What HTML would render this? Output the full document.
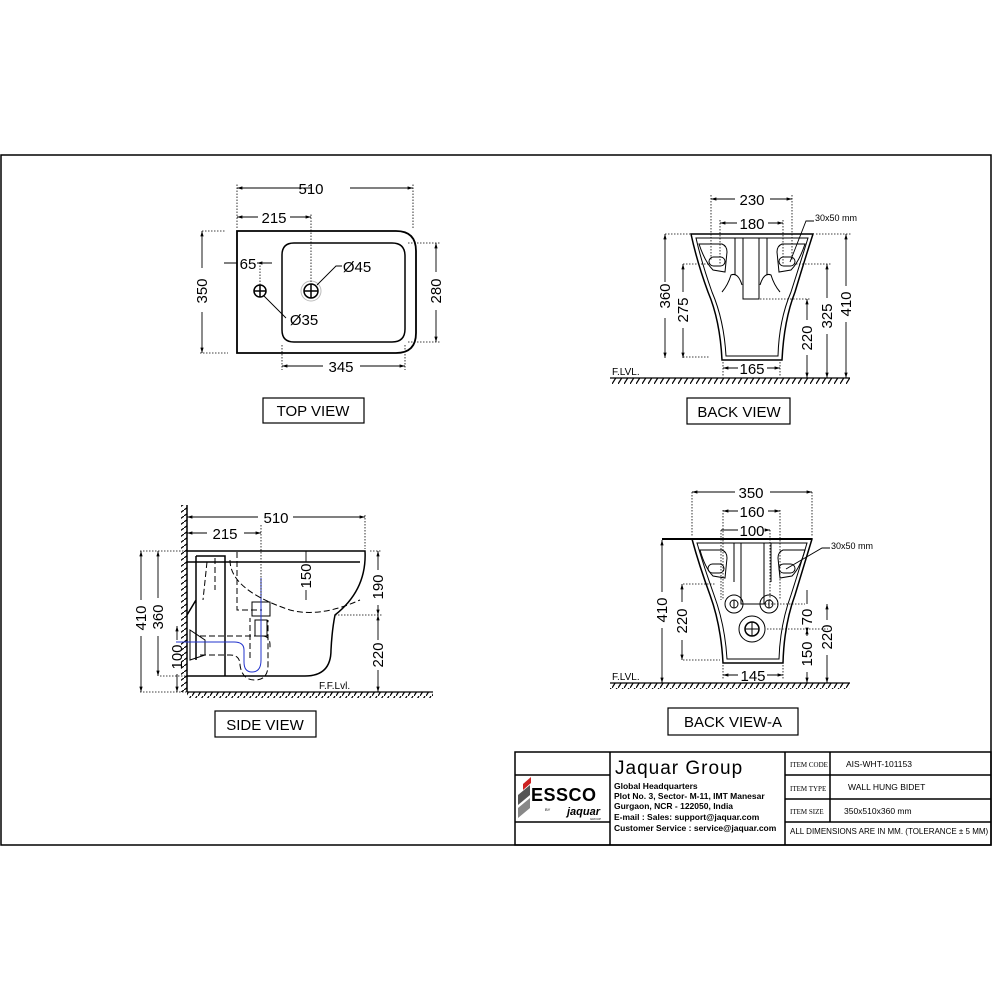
<!DOCTYPE html>
<html><head><meta charset="utf-8"><style>
html,body{margin:0;padding:0;background:#fff;}
svg{display:block;}
text{font-family:"Liberation Sans",sans-serif;fill:#000;}
</style></head><body>
<svg width="1000" height="1000" viewBox="0 0 1000 1000" xmlns="http://www.w3.org/2000/svg">
<defs>
<marker id="a" viewBox="0 0 10 10" refX="10" refY="5" markerWidth="6" markerHeight="6" orient="auto-start-reverse"><path d="M0,2 L10,5 L0,8 z" fill="#000"/></marker>
<pattern id="hatch" width="6" height="8" patternUnits="userSpaceOnUse"><path d="M0,8 L5,0" stroke="#000" stroke-width="1.2"/></pattern>
<pattern id="hatchv" width="8" height="6" patternUnits="userSpaceOnUse"><path d="M0,6 L8,0" stroke="#000" stroke-width="1.2"/></pattern>
</defs>
<rect x="1" y="155" width="990" height="690" fill="none" stroke="#000" stroke-width="1.5"/>

<g fill="none" stroke="#000" stroke-width="1.5">
<!-- TOP VIEW -->
<path d="M237,231 H396 Q416,231 416,251 V333 Q416,353 396,353 H237 Z" stroke-width="1.8"/>
<path d="M294,243 H392 Q405,243 405,256 V329 Q405,342 392,342 H294 Q282,342 282,330 V255 Q282,243 294,243 Z"/>
<circle cx="260" cy="291" r="6"/><path d="M254,291h12M260,285v12"/>
<circle cx="311" cy="291" r="10" stroke="#bbb" stroke-width="1"/>
<circle cx="311" cy="291" r="7"/><path d="M304,291h14M311,284v14"/>
</g>
<g fill="none" stroke="#000" stroke-width="0.8" stroke-dasharray="1.5,1.5">
<path d="M237,228V183M413,228V183M311,282V213M202,231H225M200,353H228M408,243H440M408,342H440M282,345V370M405,345V370M260,285V263"/>
</g>
<g stroke="#000" stroke-width="0.9" fill="none">
<path d="M237,188H312M350,188H413" marker-start="url(#a)" marker-end="url(#a)"/>
<path d="M237,217H258M290,217H311" marker-start="url(#a)" marker-end="url(#a)"/>
<path d="M202,231V268M202,312V353" marker-start="url(#a)" marker-end="url(#a)"/>
<path d="M436,243V272M436,310V342" marker-start="url(#a)" marker-end="url(#a)"/>
<path d="M282,366H323M360,366H405" marker-start="url(#a)" marker-end="url(#a)"/>
<path d="M224,263H237M272,263H257" marker-end="url(#a)"/>
<path d="M264,296L286,318M317,285L336,266H342"/>
</g>
<g font-size="15">
<text x="311" y="194" text-anchor="middle" fill="#000">510</text>
<text x="274" y="223" text-anchor="middle">215</text>
<text x="248" y="269" text-anchor="middle">65</text>
<text x="357" y="272" text-anchor="middle">Ø45</text>
<text x="304" y="325" text-anchor="middle">Ø35</text>
<text x="341" y="372" text-anchor="middle">345</text>
<text transform="translate(207,291) rotate(-90)" text-anchor="middle">350</text>
<text transform="translate(441,291) rotate(-90)" text-anchor="middle">280</text>
</g>
<rect x="263" y="398" width="101" height="25" fill="none" stroke="#000" stroke-width="1.2"/>
<text x="313" y="416" font-size="15" text-anchor="middle">TOP VIEW</text>

<!-- BACK VIEW -->
<g fill="none" stroke="#000" stroke-width="1.5">
<path d="M691,234 H813 Q804,262 795,292 Q784,320 782,360 H722 Q720,320 708,292 Q697,262 691,234 Z"/>
<path d="M696,238 H808 Q800,264 791,292 Q779,320 778,356 H726 Q724,320 712,292 Q702,264 696,238 Z" stroke-width="1"/>
<path d="M699,244 H722 Q727,246 727,252 L725,272 L713,270 Q705,262 699,244 Z" stroke-width="1"/>
<path d="M805,244 H782 Q777,246 777,252 L779,272 L791,270 Q799,262 805,244 Z" stroke-width="1"/>
<rect x="709" y="257" width="16" height="9" rx="4.5" stroke-width="1"/>
<rect x="779" y="257" width="16" height="9" rx="4.5" stroke-width="1"/>
<path d="M743,238V299H759V238M735,238V275M767,238V275" stroke-width="1"/>
<path d="M722,292 Q728,285 731,275 Q738,272 742,285 M780,292 Q774,285 771,275 Q764,272 760,285" stroke-width="1"/>
</g>
<rect x="610" y="378" width="240" height="6" fill="url(#hatch)"/>
<path d="M610,378H850" stroke="#000" stroke-width="1.2"/>
<text x="612" y="375" font-size="10">F.LVL.</text>
<g fill="none" stroke="#000" stroke-width="0.8" stroke-dasharray="1.5,1.5">
<path d="M711,195V260M792,195V260M720,220V265M783,220V265M665,234H690M683,264H708M816,234H852M796,264H832M760,299H810M723,362V376M780,362V376M683,357H710"/>
</g>
<g stroke="#000" stroke-width="0.9" fill="none">
<path d="M711,199H735M770,199H792" marker-start="url(#a)" marker-end="url(#a)"/>
<path d="M720,223H737M768,223H783" marker-start="url(#a)" marker-end="url(#a)"/>
<path d="M665,234V282M665,318V358" marker-start="url(#a)" marker-end="url(#a)"/>
<path d="M683,264V292M683,328V358" marker-start="url(#a)" marker-end="url(#a)"/>
<path d="M807,299V320M807,355V378" marker-start="url(#a)" marker-end="url(#a)"/>
<path d="M827,264V298M827,334V378" marker-start="url(#a)" marker-end="url(#a)"/>
<path d="M846,234V286M846,322V378" marker-start="url(#a)" marker-end="url(#a)"/>
<path d="M723,368H738M767,368H780" marker-start="url(#a)" marker-end="url(#a)"/>
<path d="M790,262L806,221H814"/>
</g>
<g font-size="15">
<text x="752" y="205" text-anchor="middle">230</text>
<text x="752" y="229" text-anchor="middle">180</text>
<text x="752" y="374" text-anchor="middle">165</text>
<text transform="translate(670,296) rotate(-90)" text-anchor="middle">360</text>
<text transform="translate(688,310) rotate(-90)" text-anchor="middle">275</text>
<text transform="translate(812,338) rotate(-90)" text-anchor="middle">220</text>
<text transform="translate(832,316) rotate(-90)" text-anchor="middle">325</text>
<text transform="translate(851,304) rotate(-90)" text-anchor="middle">410</text>
</g>
<text x="815" y="221" font-size="9">30x50 mm</text>
<rect x="687" y="398" width="103" height="26" fill="none" stroke="#000" stroke-width="1.2"/>
<text x="739" y="417" font-size="15" text-anchor="middle">BACK VIEW</text>

<!-- SIDE VIEW -->
<rect x="181" y="505" width="6" height="187" fill="url(#hatchv)"/>
<path d="M187,505V692" stroke="#000" stroke-width="1.5"/>
<rect x="187" y="692" width="246" height="6" fill="url(#hatch)"/>
<path d="M187,692H433" stroke="#000" stroke-width="1.2"/>
<g fill="none" stroke="#000" stroke-width="1.5">
<path d="M187,551H365 Q367,590 335,615 Q332,630 331,650 Q331,676 305,676 H187"/>
<path d="M187,562H360"/>
<path d="M196,556H225V600M196,556V660M196,600L187,615M225,600V676"/>
</g>
<g fill="none" stroke="#000" stroke-width="1" stroke-dasharray="6,3">
<path d="M215,558 L215,590M207,562 L203,600M230,560 Q230,590 290,610 Q320,618 360,600"/>
<path d="M237,552V610H262"/>
<path d="M200,636H262Q270,636 270,645V650"/>
<path d="M200,655H230Q240,655 240,665Q242,680 255,680Q268,680 268,665V620"/>
<path d="M250,658V618"/>
</g>
<g fill="none" stroke="#000" stroke-width="1">
<rect x="252" y="602" width="18" height="14"/>
<rect x="255" y="620" width="12" height="16"/>
<path d="M190,630L205,640V655L190,660Z"/>
</g>
<g fill="none" stroke="#2233cc" stroke-width="1">
<path d="M261,578V660Q261,672 252,672Q244,672 244,662V650Q244,642 234,642H176"/>
</g>
<g fill="none" stroke="#000" stroke-width="0.8" stroke-dasharray="1.5,1.5">
<path d="M365,515V549M261,525V600M140,551H187M370,551H382M335,615H382M140,692H187M160,676H187"/>
</g>
<g stroke="#000" stroke-width="0.9" fill="none">
<path d="M187,517H258M293,517H365" marker-start="url(#a)" marker-end="url(#a)"/>
<path d="M187,533H207M244,533H261" marker-start="url(#a)" marker-end="url(#a)"/>
<path d="M141,551V600M141,636V692" marker-start="url(#a)" marker-end="url(#a)"/>
<path d="M158,551V598M158,636V676" marker-start="url(#a)" marker-end="url(#a)"/>
<path d="M177,626V640M177,674V692" marker-start="url(#a)" marker-end="url(#a)"/>
<path d="M306,551V562M306,590V600"/>
<path d="M378,551V570M378,605V615" marker-start="url(#a)" marker-end="url(#a)"/>
<path d="M378,615V640M378,670V692" marker-start="url(#a)" marker-end="url(#a)"/>
</g>
<g font-size="15">
<text x="276" y="523" text-anchor="middle">510</text>
<text x="225" y="539" text-anchor="middle">215</text>
<text transform="translate(146,618) rotate(-90)" text-anchor="middle">410</text>
<text transform="translate(163,617) rotate(-90)" text-anchor="middle">360</text>
<text transform="translate(182,657) rotate(-90)" text-anchor="middle">100</text>
<text transform="translate(311,576) rotate(-90)" text-anchor="middle">150</text>
<text transform="translate(383,587) rotate(-90)" text-anchor="middle">190</text>
<text transform="translate(383,655) rotate(-90)" text-anchor="middle">220</text>
</g>
<text x="319" y="689" font-size="10">F.F.Lvl.</text>
<rect x="215" y="711" width="101" height="26" fill="none" stroke="#000" stroke-width="1.2"/>
<text x="265" y="730" font-size="15" text-anchor="middle">SIDE VIEW</text>

<!-- BACK VIEW-A -->
<g fill="none" stroke="#000" stroke-width="1.5">
<path d="M662,539H812" stroke-width="2"/>
<path d="M692,539 H812 Q804,565 795,595 Q784,625 783,663 H723 Q721,625 710,595 Q699,565 692,539 Z"/>
<path d="M697,543 H807 Q800,567 791,595 Q780,625 779,659 H727 Q725,625 714,595 Q704,567 697,543 Z" stroke-width="1"/>
<path d="M700,550 H722 Q727,552 727,558 L725,578 L713,576 Q705,568 700,550 Z" stroke-width="1"/>
<path d="M805,550 H783 Q778,552 778,558 L780,578 L792,576 Q800,568 805,550 Z" stroke-width="1"/>
<rect x="708" y="564" width="16" height="9" rx="4.5" stroke-width="1"/>
<rect x="779" y="564" width="16" height="9" rx="4.5" stroke-width="1"/>
<path d="M741,543V604H764V543M734,543V582M771,543V582" stroke-width="1"/>
<circle cx="734" cy="604" r="9" stroke-width="1"/><circle cx="734" cy="604" r="4" stroke-width="1"/><path d="M734,600V608" stroke-width="1"/>
<circle cx="769" cy="604" r="9" stroke-width="1"/><circle cx="769" cy="604" r="4" stroke-width="1"/><path d="M769,600V608" stroke-width="1"/>
<circle cx="752" cy="629" r="13" stroke-width="1"/><circle cx="752" cy="629" r="7"/><path d="M745,629h14M752,622v14" stroke-width="1"/>
</g>
<rect x="610" y="683" width="240" height="6" fill="url(#hatch)"/>
<path d="M610,683H850" stroke="#000" stroke-width="1.2"/>
<text x="612" y="680" font-size="10">F.LVL.</text>
<g fill="none" stroke="#000" stroke-width="0.8" stroke-dasharray="1.5,1.5">
<path d="M692,492V537M812,492V537M723,510V600M780,510V600M721,530V600M770,530V600M683,584H716M683,660H720M765,604H805M767,629H828M723,665V680M783,665V680"/>
</g>
<g stroke="#000" stroke-width="0.9" fill="none">
<path d="M692,492H735M770,492H812" marker-start="url(#a)" marker-end="url(#a)"/>
<path d="M723,511H738M768,511H780" marker-start="url(#a)" marker-end="url(#a)"/>
<path d="M721,530H738M768,530H770" marker-end="url(#a)"/>
<path d="M662,540V592M662,628V683" marker-start="url(#a)" marker-end="url(#a)"/>
<path d="M682,584V602M682,640V660" marker-start="url(#a)" marker-end="url(#a)"/>
<path d="M807,590V604M807,629V633" marker-end="url(#a)"/>
<path d="M807,629V636M807,672V683" marker-start="url(#a)" marker-end="url(#a)"/>
<path d="M827,604V620M827,655V683" marker-start="url(#a)" marker-end="url(#a)"/>
<path d="M723,675H738M767,675H783" marker-start="url(#a)" marker-end="url(#a)"/>
<path d="M786,569L822,548H830"/>
</g>
<g font-size="15">
<text x="751" y="498" text-anchor="middle">350</text>
<text x="752" y="517" text-anchor="middle">160</text>
<text x="752" y="536" text-anchor="middle">100</text>
<text x="753" y="681" text-anchor="middle">145</text>
<text transform="translate(667,610) rotate(-90)" text-anchor="middle">410</text>
<text transform="translate(687,621) rotate(-90)" text-anchor="middle">220</text>
<text transform="translate(812,617) rotate(-90)" text-anchor="middle">70</text>
<text transform="translate(812,654) rotate(-90)" text-anchor="middle">150</text>
<text transform="translate(832,637) rotate(-90)" text-anchor="middle">220</text>
</g>
<text x="831" y="549" font-size="9">30x50 mm</text>
<rect x="668" y="708" width="130" height="27" fill="none" stroke="#000" stroke-width="1.2"/>
<text x="733" y="727" font-size="15" text-anchor="middle">BACK VIEW-A</text>

<!-- TITLE BLOCK -->
<g fill="none" stroke="#000" stroke-width="1.5">
<rect x="515" y="752" width="476" height="93"/>
<path d="M610,752V845M785,752V845M830,752V822M785,775H991M785,799H991M785,822H991M515,775H610M515,822H610"/>
</g>
<text x="615" y="774" font-size="19" letter-spacing="1">Jaquar Group</text>
<g font-size="8.5" font-weight="bold">
<text x="614" y="789">Global Headquarters</text>
<text x="614" y="799">Plot No. 3, Sector- M-11, IMT Manesar</text>
<text x="614" y="809">Gurgaon, NCR - 122050, India</text>
<text x="614" y="820">E-mail : Sales: support@jaquar.com</text>
<text x="614" y="831">Customer Service : service@jaquar.com</text>
</g>
<g font-size="7" font-family="Liberation Serif">
<text x="790" y="767" style="font-family:'Liberation Serif',serif">ITEM CODE</text>
<text x="790" y="791" style="font-family:'Liberation Serif',serif">ITEM TYPE</text>
<text x="790" y="814" style="font-family:'Liberation Serif',serif">ITEM SIZE</text>
</g>
<g font-size="8.5">
<text x="846" y="767">AIS-WHT-101153</text>
<text x="848" y="790">WALL HUNG BIDET</text>
<text x="844" y="814">350x510x360 mm</text>
<text x="790" y="834" font-size="8">ALL DIMENSIONS ARE IN MM. (TOLERANCE ± 5 MM)</text>
</g>
<path d="M523,784L531,777L531,783L523,790Z" fill="#c22"/>
<path d="M518,795L530,785L530,795L518,805Z" fill="#555"/>
<path d="M518,808L530,798L530,808L518,818Z" fill="#888"/>
<text x="531" y="801" font-size="18" font-weight="bold" letter-spacing="0.5">ESSCO</text>
<text x="545" y="811" font-size="4">BY</text>
<text x="567" y="815" font-size="11" font-style="italic" font-weight="bold">jaquar</text>
<text x="590" y="820" font-size="3">GROUP</text>
</svg>
</body></html>
